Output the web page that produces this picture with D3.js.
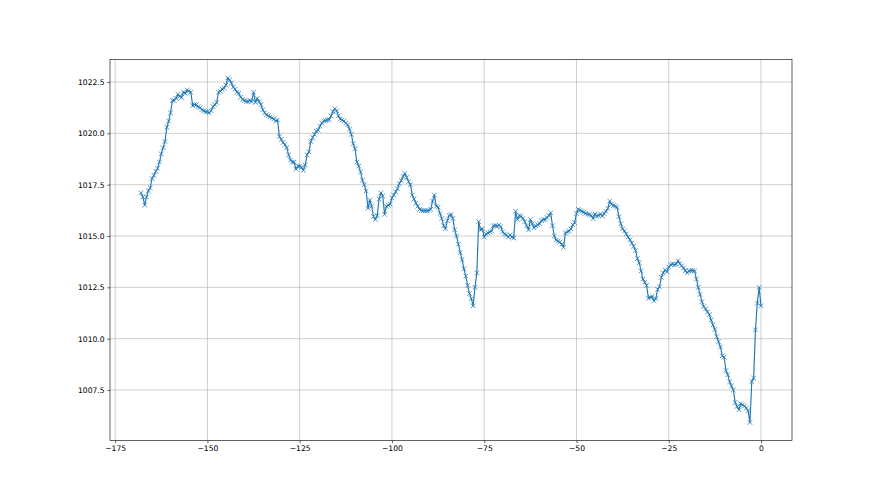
<!DOCTYPE html>
<html>
<head>
<meta charset="utf-8">
<script src="https://cdn.jsdelivr.net/npm/d3@7"></script>
<style>
  body { margin: 0; background: #fff; }
  svg { display: block; font-family: "DejaVu Sans", sans-serif; }
</style>
</head>
<body>
<script>
// readings every half hour, from 168 h ago up to now
var startHour = -168;
var stepHours = 0.5;
var pressure = [
  // -168
  1017.1, 1016.9, 1016.5, 1016.9, 1017.2, 1017.35, 1017.8, 1017.95, 1018.15, 1018.3,
  1018.6, 1019.0, 1019.3, 1019.6, 1020.3, 1020.6, 1021.0, 1021.6, 1021.6, 1021.7,
  // -158
  1021.9, 1021.8, 1021.75, 1022.0, 1021.95, 1022.1, 1022.05, 1022.0, 1021.35, 1021.4,
  1021.4, 1021.3, 1021.25, 1021.15, 1021.1, 1021.05, 1021.05, 1021.0, 1021.1, 1021.3,
  // -148
  1021.4, 1021.5, 1022.0, 1022.05, 1022.15, 1022.2, 1022.35, 1022.7, 1022.6, 1022.45,
  1022.25, 1022.15, 1022.0, 1021.95, 1021.75, 1021.65, 1021.6, 1021.55, 1021.55, 1021.6,
  // -138
  1021.55, 1022.0, 1021.5, 1021.7, 1021.55, 1021.4, 1021.15, 1021.0, 1020.9, 1020.85,
  1020.8, 1020.75, 1020.7, 1020.6, 1020.65, 1019.85, 1019.7, 1019.55, 1019.45, 1019.3,
  // -128
  1018.95, 1018.7, 1018.6, 1018.6, 1018.25, 1018.4, 1018.4, 1018.35, 1018.2, 1018.45,
  1018.95, 1019.1, 1019.6, 1019.8, 1019.95, 1020.1, 1020.15, 1020.35, 1020.5, 1020.6,
  // -118
  1020.62, 1020.65, 1020.67, 1020.85, 1021.05, 1021.2, 1021.1, 1020.85, 1020.7, 1020.65,
  1020.6, 1020.5, 1020.42, 1020.2, 1019.95, 1019.5, 1019.25, 1018.6, 1018.4, 1018.12,
  // -108
  1017.72, 1017.5, 1017.2, 1016.35, 1016.75, 1016.45, 1015.95, 1015.8, 1016.0, 1016.8,
  1017.1, 1016.95, 1016.05, 1016.45, 1016.5, 1016.55, 1016.85, 1017.0, 1017.15, 1017.3,
  // -98
  1017.55, 1017.7, 1017.9, 1018.05, 1017.85, 1017.65, 1017.5, 1017.0, 1016.8, 1016.6,
  1016.45, 1016.3, 1016.25, 1016.23, 1016.23, 1016.23, 1016.25, 1016.3, 1016.7, 1017.0,
  // -88
  1016.45, 1016.4, 1016.1, 1015.85, 1015.5, 1015.35, 1015.75, 1016.0, 1016.05, 1015.85,
  1015.3, 1015.0, 1014.6, 1014.2, 1013.85, 1013.4, 1013.05, 1012.6, 1012.2, 1011.95,
  // -78
  1011.6, 1012.5, 1013.2, 1015.7, 1015.3, 1015.35, 1014.95, 1015.1, 1015.15, 1015.2,
  1015.25, 1015.5, 1015.5, 1015.48, 1015.53, 1015.45, 1015.2, 1015.1, 1015.05, 1014.95,
  // -68
  1015.05, 1014.95, 1014.9, 1016.2, 1015.8, 1016.0, 1015.95, 1015.85, 1015.7, 1015.5,
  1015.3, 1015.8, 1015.6, 1015.4, 1015.5, 1015.55, 1015.6, 1015.75, 1015.8, 1015.8,
  // -58
  1015.9, 1016.0, 1016.13, 1015.5, 1015.0, 1014.8, 1014.75, 1014.7, 1014.6, 1014.45,
  1015.15, 1015.2, 1015.25, 1015.35, 1015.55, 1015.65, 1016.1, 1016.3, 1016.25, 1016.2,
  // -48
  1016.15, 1016.1, 1016.07, 1016.05, 1016.0, 1015.85, 1016.07, 1015.97, 1016.0, 1016.07,
  1015.97, 1016.1, 1016.2, 1016.35, 1016.7, 1016.55, 1016.48, 1016.45, 1016.39, 1015.94,
  // -38
  1015.6, 1015.35, 1015.25, 1015.1, 1014.95, 1014.82, 1014.65, 1014.5, 1014.3, 1013.9,
  1013.7, 1013.3, 1012.9, 1012.75, 1012.6, 1011.97, 1012.02, 1012.05, 1011.85, 1011.95,
  // -28
  1012.4, 1012.53, 1012.99, 1013.2, 1013.35, 1013.25, 1013.5, 1013.6, 1013.64, 1013.6,
  1013.62, 1013.8, 1013.65, 1013.55, 1013.45, 1013.31, 1013.21, 1013.3, 1013.31, 1013.32,
  // -18
  1013.3, 1012.9, 1012.5, 1012.15, 1011.8, 1011.56, 1011.45, 1011.3, 1011.18, 1010.91,
  1010.67, 1010.45, 1010.1, 1009.85, 1009.6, 1009.17, 1009.1, 1008.45, 1008.24, 1007.9,
  // -8
  1007.7, 1007.5, 1006.9, 1006.7, 1006.54, 1006.83, 1006.78, 1006.72, 1006.62, 1006.5,
  1005.92, 1007.92, 1008.08, 1010.43, 1011.73, 1012.5, 1011.6
];
var xTicks = [-175, -150, -125, -100, -75, -50, -25, 0];
var yTicks = [1007.5, 1010.0, 1012.5, 1015.0, 1017.5, 1020.0, 1022.5];
var xLimits = [-176.4, 8.4];
var yLimits = [1005.04, 1023.6];

var data = pressure.map(function(v, i) {
  return { hour: startHour + i * stepHours, value: v };
});

var W = 880, H = 495;
var px = 55 / 72; // figure was drawn at 55 dpi
var margin = { top: 59.4, right: 88, bottom: 54.45, left: 110 },
    width = W - margin.left - margin.right,
    height = H - margin.top - margin.bottom;

var svg = d3.select("body").append("svg")
    .attr("width", W)
    .attr("height", H);

svg.append("rect").attr("width", W).attr("height", H).attr("fill", "#fff");

var g = svg.append("g")
    .attr("transform", "translate(" + margin.left + "," + margin.top + ")");

var x = d3.scaleLinear().domain(xLimits).range([0, width]);
var y = d3.scaleLinear().domain(yLimits).range([height, 0]);

svg.append("defs").append("clipPath").attr("id", "clip")
  .append("rect").attr("width", width).attr("height", height);

// grid
g.append("g").selectAll("line").data(xTicks).enter().append("line")
    .attr("x1", function(d) { return x(d); }).attr("x2", function(d) { return x(d); })
    .attr("y1", 0).attr("y2", height)
    .attr("stroke", "#b0b0b0").attr("stroke-width", 0.8 * px);
g.append("g").selectAll("line").data(yTicks).enter().append("line")
    .attr("y1", function(d) { return y(d); }).attr("y2", function(d) { return y(d); })
    .attr("x1", 0).attr("x2", width)
    .attr("stroke", "#b0b0b0").attr("stroke-width", 0.8 * px);

var plot = g.append("g").attr("clip-path", "url(#clip)");

var line = d3.line()
    .x(function(d) { return x(d.hour); })
    .y(function(d) { return y(d.value); });

plot.append("path")
    .datum(data)
    .attr("fill", "none")
    .attr("stroke", "#1f77b4")
    .attr("stroke-width", 1.5 * px)
    .attr("stroke-linejoin", "round")
    .attr("d", line);

var ms = 3 * px; // half of marker size (6pt)
plot.append("g").selectAll("path")
    .data(data)
  .enter().append("path")
    .attr("fill", "none")
    .attr("stroke", "#1f77b4")
    .attr("stroke-width", 1.0 * px)
    .attr("d", function(d) {
      var cx = x(d.hour), cy = y(d.value);
      return "M" + (cx - ms) + "," + (cy - ms) + "L" + (cx + ms) + "," + (cy + ms) +
             "M" + (cx - ms) + "," + (cy + ms) + "L" + (cx + ms) + "," + (cy - ms);
    });

var fmtX = function(d) { return d < 0 ? "\u2212" + Math.abs(d) : String(d); };

var xAxis = d3.axisBottom(x).tickValues(xTicks).tickFormat(fmtX)
    .tickSize(3.5 * px).tickPadding(3.5 * px);
var yAxis = d3.axisLeft(y).tickValues(yTicks).tickFormat(d3.format(".1f"))
    .tickSize(3.5 * px).tickPadding(3.5 * px);

var gx = g.append("g").attr("transform", "translate(0," + height + ")").call(xAxis);
var gy = g.append("g").call(yAxis);

[gx, gy].forEach(function(a) {
  a.select(".domain").remove();
  a.selectAll(".tick line").attr("stroke", "#000").attr("stroke-width", 0.8 * px);
  a.selectAll(".tick text")
    .attr("fill", "#000")
    .style("font-family", "'DejaVu Sans', sans-serif")
    .style("font-size", (10 * px) + "px");
});

// frame
g.append("rect")
    .attr("width", width).attr("height", height)
    .attr("fill", "none")
    .attr("stroke", "#000")
    .attr("stroke-width", 0.8 * px);
</script>
</body>
</html>
